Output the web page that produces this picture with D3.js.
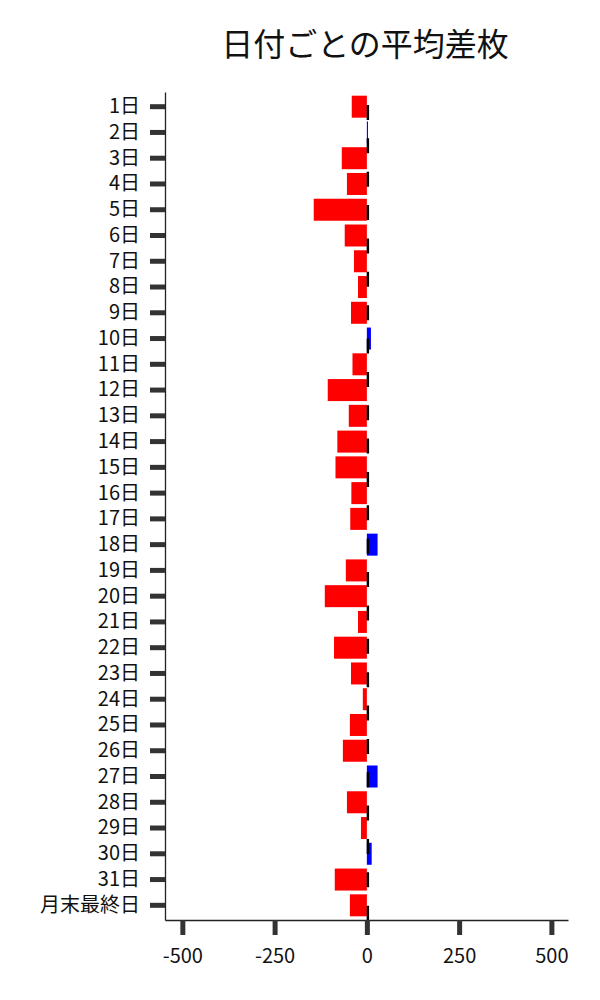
<!DOCTYPE html>
<html>
<head>
<meta charset="utf-8">
<script src="https://cdn.jsdelivr.net/npm/d3@7"></script>
<style>
  body { margin: 0; background: #fff; }
  text { font-family: "Noto Sans CJK JP", "Noto Sans", sans-serif; }
</style>
</head>
<body>
<script>
// define constants
const svgWidth = 600;
const svgHeight = 1000;
const margin = {top: 92, right: 32, bottom: 80, left: 165};
const plotWidth = svgWidth - margin.left - margin.right;
const plotHeight = svgHeight - margin.top - margin.bottom;

// data
const days = ['1日', '2日', '3日', '4日', '5日', '6日', '7日', '8日', '9日', '10日',
              '11日', '12日', '13日', '14日', '15日', '16日', '17日', '18日', '19日', '20日',
              '21日', '22日', '23日', '24日', '25日', '26日', '27日', '28日', '29日', '30日',
              '31日', '月末最終日'];
const avgDiff = [-41, 3, -68, -54, -144, -60, -35, -24, -43, 11,
                 -39, -106, -49, -80, -85, -42, -45, 29, -57, -114,
                 -24, -89, -43, -11, -46, -65, 29, -54, -16, 13,
                 -87, -46];
const xTicks = [-500, -250, 0, 250, 500];
const xDomain = [-547, 545];
const title = '日付ごとの平均差枚';

const rows = days.map((d, i) => ({day: d, value: avgDiff[i]}));

const svg = d3.select('body')
              .append('svg')
              .attr('width', svgWidth)
              .attr('height', svgHeight);

const inner = svg.append('g')
                 .attr('transform', 'translate(' + margin.left + ',' + margin.top + ')');

// scales
const xScale = d3.scaleLinear()
                 .domain(xDomain)
                 .range([0, plotWidth]);

const yScale = d3.scaleBand()
                 .domain(days)
                 .range([0, plotHeight])
                 .paddingInner(0.146)
                 .paddingOuter(0.143);

// bars
inner.selectAll('rect.bar')
     .data(rows)
     .enter()
     .append('rect')
     .attr('class', 'bar')
     .attr('x', d => xScale(Math.min(0, d.value)))
     .attr('y', d => yScale(d.day))
     .attr('width', d => Math.abs(xScale(d.value) - xScale(0)))
     .attr('height', yScale.bandwidth())
     .attr('fill', d => d.value < 0 ? '#ff0000' : '#0000ff');

// dashed zero line on top of the bars
const period = yScale.step() * 1.295;
inner.append('line')
     .attr('x1', xScale(0) + 1)
     .attr('x2', xScale(0) + 1)
     .attr('y1', 0)
     .attr('y2', plotHeight)
     .attr('stroke', '#000')
     .attr('stroke-width', 2.4)
     .attr('stroke-dasharray', '15,' + (period - 15))
     .attr('stroke-dashoffset', period - 13);

// axes
const yAxis = d3.axisLeft(yScale).tickSize(15).tickSizeOuter(0).tickPadding(10);
const xAxis = d3.axisBottom(xScale).tickValues(xTicks).tickFormat(d => String(d))
                .tickSize(15).tickSizeOuter(0).tickPadding(14);

const gy = inner.append('g').attr('class', 'y-axis').call(yAxis);
const gx = inner.append('g')
                .attr('class', 'x-axis')
                .attr('transform', 'translate(0,' + plotHeight + ')')
                .call(xAxis);

[gx, gy].forEach(g => {
    g.select('.domain').attr('stroke', '#222').attr('stroke-width', 1.3);
    g.selectAll('.tick line').attr('stroke', '#333').attr('stroke-width', 5);
    g.selectAll('.tick text')
     .attr('fill', '#111')
     .style('font-size', '20px')
     .style('font-family', '"Noto Sans CJK JP", "Noto Sans", sans-serif');
});

// title
svg.append('text')
   .attr('x', 365)
   .attr('y', 42)
   .attr('text-anchor', 'middle')
   .attr('dominant-baseline', 'central')
   .style('font-size', '32px')
   .attr('fill', '#111')
   .text(title);
</script>
</body>
</html>
